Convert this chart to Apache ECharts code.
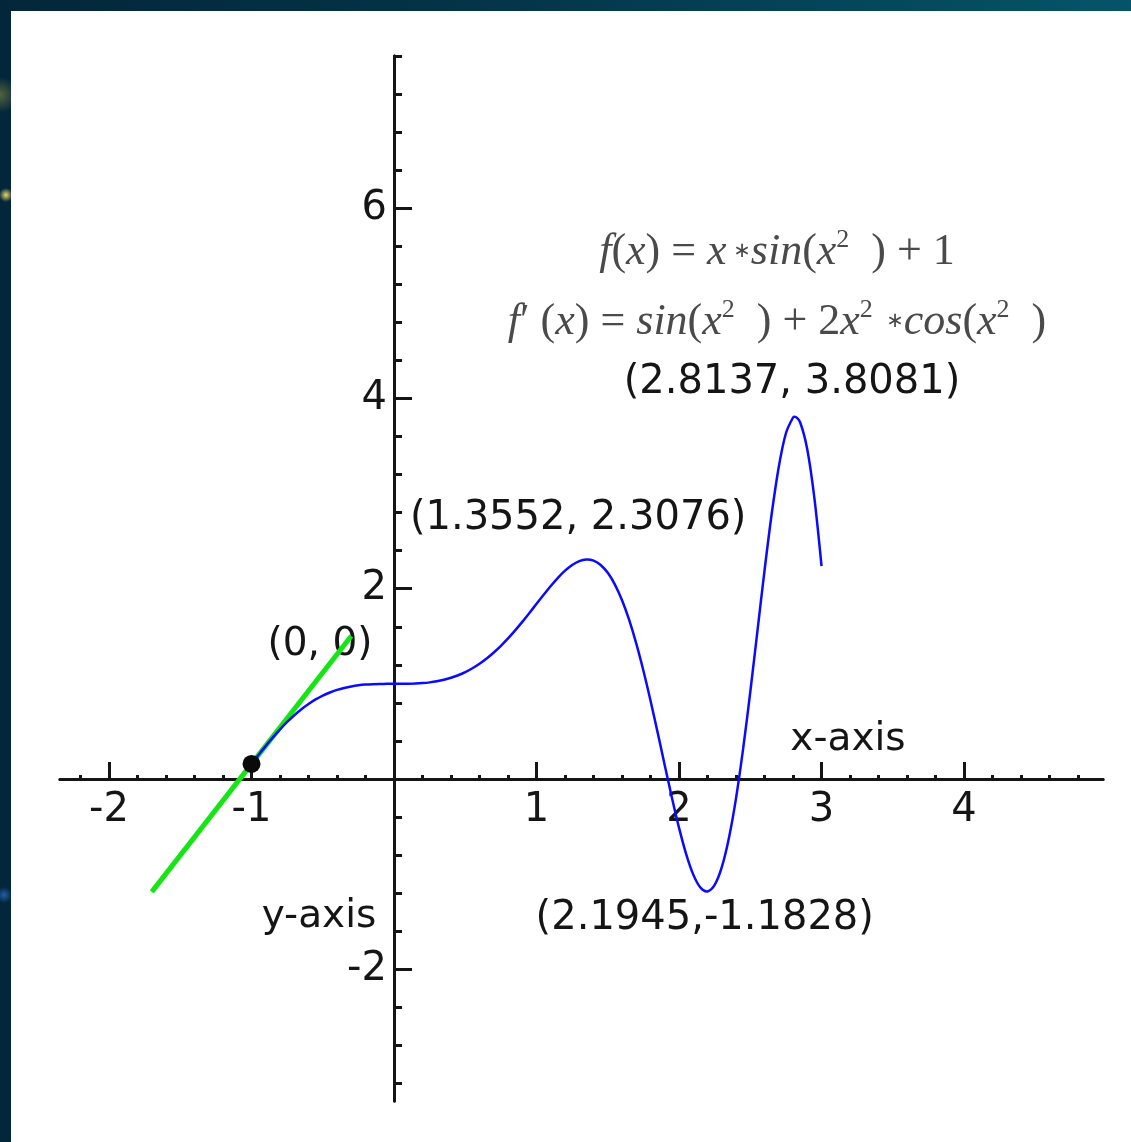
<!DOCTYPE html>
<html>
<head>
<meta charset="utf-8">
<title>f(x) = x*sin(x^2) + 1</title>
<script src="https://cdn.jsdelivr.net/npm/echarts@6/dist/echarts.min.js"></script>
<style>
  html, body { margin: 0; padding: 0; width: 1131px; height: 1142px; overflow: hidden; }
  body {
    position: relative;
    background:
      radial-gradient(circle at 0px 95px, rgba(150,150,70,0.55) 0, rgba(150,150,70,0) 18px),
      radial-gradient(circle at 6px 195px, rgba(245,225,110,0.95) 0, rgba(245,225,110,0) 7px),
      radial-gradient(circle at 4px 895px, rgba(40,110,200,0.8) 0, rgba(40,110,200,0) 8px),
      linear-gradient(90deg, #03263a 0%, #043548 45%, #065468 100%);
  }
  #panel { position: absolute; left: 11px; top: 11px; right: 0; bottom: 0; background: #fff; }
  #chart { position: absolute; left: 0; top: 0; width: 1131px; height: 1142px; }
</style>
</head>
<body>
<div id="panel"></div>
<div id="chart"></div>
<script>
// f(x) = x*sin(x^2) + 1, sampled on [-1, 3]
const curveX = [
  -1.00, -0.95, -0.90, -0.85, -0.80, -0.75, -0.70, -0.65, -0.60, -0.55,
  -0.50, -0.45, -0.40, -0.35, -0.30, -0.25, -0.20, -0.15, -0.10, -0.05,
   0.00,  0.05,  0.10,  0.15,  0.20,  0.25,  0.30,  0.35,  0.40,  0.45,
   0.50,  0.55,  0.60,  0.65,  0.70,  0.75,  0.80,  0.85,  0.90,  0.95,
   1.00,  1.05,  1.10,  1.15,  1.20,  1.25,  1.30,  1.35,  1.40,  1.45,
   1.50,  1.55,  1.60,  1.65,  1.70,  1.75,  1.80,  1.85,  1.90,  1.95,
   2.00,  2.05,  2.10,  2.15,  2.20,  2.25,  2.30,  2.35,  2.40,  2.45,
   2.50,  2.55,  2.60,  2.65,  2.70,  2.75,  2.80,  2.85,  2.90,  2.95,
   3.00
];
const curveY = [
  0.1585, 0.2544, 0.3481, 0.4378, 0.5222, 0.6000, 0.6706, 0.7334, 0.7886, 0.8362,
  0.8763, 0.9095, 0.9363, 0.9572, 0.9730, 0.9844, 0.9920, 0.9966, 0.9990, 0.9999,
  1.0000, 1.0001, 1.0010, 1.0034, 1.0080, 1.0156, 1.0270, 1.0428, 1.0637, 1.0905,
  1.1237, 1.1638, 1.2114, 1.2666, 1.3294, 1.4000, 1.4778, 1.5622, 1.6519, 1.7456,
  1.8415, 1.9369, 2.0292, 2.1147, 2.1898, 2.2500, 2.2908, 2.3075, 2.2953, 2.2499,
  2.1672, 2.0439, 1.8786, 1.6716, 1.4231, 1.1383, 0.8232, 0.4872, 0.1421, -0.1971,
  -0.5136, -0.7892, -1.0053, -1.1414, -1.1822, -1.1134, -0.9269, -0.6203, -0.2010, 0.3213,
  0.9170, 1.5546, 2.1934, 2.7856, 3.2831, 3.6342, 3.7997, 3.7477, 3.4636, 2.9494,
  2.2364
];

// Local extrema of f and their printed coordinates
const extremaX = [1.3552, 2.1945, 2.8137];
const extremaY = [2.3076, -1.1828, 3.8081];
const extremaText = ['(1.3552, 2.3076)', '(2.1945,-1.1828)', '(2.8137, 3.8081)'];

// Tangent line through the point (-1, f(-1))
const tangentPoint = [-1, 0.1585];
const tangentX = [-1.7, -0.3];
const tangentY = [-1.1869, 1.5039];

// Axis ticks and labels
const xMajorTicks = [-2, -1, 1, 2, 3, 4];
const yMajorTicks = [-2, 2, 4, 6];
const xRange = [-2.344, 4.975];
const yRange = [-3.385, 7.6];

function steps(from, to, step) {
  const out = [];
  const n = Math.round((to - from) / step);
  for (let i = 0; i <= n; i++) out.push(+(from + i * step).toFixed(4));
  return out;
}
const xMinorTicks = steps(-2.2, 4.8, 0.2);
const yMinorTicks = steps(-3.2, 7.6, 0.4);

// Merge the extrema into the sampled curve so the peaks are exact
const curveData = curveX.map((x, i) => [x, curveY[i]])
  .concat(extremaX.map((x, i) => [x, extremaY[i]]))
  .sort((a, b) => a[0] - b[0]);

const INK = '#151515';
const LABEL_FONT = 'DejaVu Sans';
const MATH_FONT = 'Liberation Serif';
const MATH_COLOR = '#4a4a4a';
const NUM_SIZE = 40;

// Plot area; x = 0 falls at pixel 394 and y = 0 at pixel 779
const PLOT = { left: 60, right: 28, top: 56, bottom: 41 };
const ZERO_X_PX = 394, ZERO_Y_PX = 779, H = 1142;

const grids = [
  // 0: data + major ticks, 1: minor ticks
  Object.assign({ outerBoundsMode: 'none' }, PLOT),
  Object.assign({ outerBoundsMode: 'none' }, PLOT),
  // 2: x tick labels hang under the x = 0 line
  { outerBoundsMode: 'none', left: PLOT.left, right: PLOT.right, top: PLOT.top, bottom: H - ZERO_Y_PX },
  // 3: y tick labels sit left of the y = 0 line
  { outerBoundsMode: 'none', left: ZERO_X_PX, right: PLOT.right, top: PLOT.top, bottom: PLOT.bottom }
];

const numLabel = (values, margin) => ({
  show: true, customValues: values, margin,
  fontFamily: LABEL_FONT, fontSize: NUM_SIZE, color: INK
});

function tickAxis(range, gridIndex, ticks, len) {
  return {
    type: 'value', gridIndex, min: range[0], max: range[1],
    splitLine: { show: false },
    axisLine: { show: true, onZero: true, lineStyle: { color: INK, width: 3 } },
    axisTick: { show: true, inside: true, length: len, customValues: ticks,
                lineStyle: { color: INK, width: 3 } },
    axisLabel: { show: false }
  };
}
function labelAxis(range, gridIndex, labels, margin) {
  return {
    type: 'value', gridIndex, min: range[0], max: range[1],
    splitLine: { show: false },
    axisLine: { show: false, onZero: false },
    axisTick: { show: false },
    axisLabel: labels ? numLabel(labels, margin) : { show: false }
  };
}

const extremaLabelOffset = [[-9, -41], [-2, 27], [-3, -34]];

const mathRich = {
  i: { fontFamily: MATH_FONT, fontStyle: 'italic', fontSize: 44, color: MATH_COLOR, lineHeight: 50 },
  u: { fontFamily: MATH_FONT, fontSize: 44, color: MATH_COLOR, lineHeight: 50 },
  a: { fontFamily: 'DejaVu Sans', fontSize: 21, color: MATH_COLOR, lineHeight: 42 },
  s: { fontFamily: MATH_FONT, fontSize: 26, color: MATH_COLOR, lineHeight: 28, verticalAlign: 'top' }
};

function textAt(x, y, text) {
  return {
    type: 'text', x, y, z: 1,
    style: { text, fill: INK, font: '39px "' + LABEL_FONT + '"', align: 'center', verticalAlign: 'middle' }
  };
}
function mathAt(x, y, text) {
  return {
    type: 'text', x, y, z: 1,
    style: { text, rich: mathRich, fill: MATH_COLOR, font: '44px "' + MATH_FONT + '"',
             align: 'center', verticalAlign: 'middle' }
  };
}

const option = {
  animation: false,
  backgroundColor: 'transparent',
  grid: grids,
  xAxis: [
    tickAxis(xRange, 0, xMajorTicks, 17),
    tickAxis(xRange, 1, xMinorTicks, 4),
    labelAxis(xRange, 2, xMajorTicks, 12),
    labelAxis(xRange, 3, null, 0)
  ],
  yAxis: [
    tickAxis(yRange, 0, yMajorTicks, 18),
    tickAxis(yRange, 1, yMinorTicks, 8),
    labelAxis(yRange, 2, null, 0),
    labelAxis(yRange, 3, yMajorTicks, 7)
  ],
  graphic: [
    textAt(320, 645, '(0, 0)'),
    textAt(848, 740, 'x-axis'),
    textAt(319, 917, 'y-axis'),
    mathAt(777, 252, '{i|f}{u|(}{i|x}{u|) = }{i|x}{a| ∗}{i|sin}{u|(}{i|x}{s|2}{u|  ) + 1}'),
    mathAt(777, 322, '{i|f}{u|′ (}{i|x}{u|) = }{i|sin}{u|(}{i|x}{s|2}{u|  ) + 2}{i|x}{s|2}{a|  ∗}{i|cos}{u|(}{i|x}{s|2}{u|  )}')
  ],
  series: [
    {
      name: 'tangent', type: 'line', xAxisIndex: 0, yAxisIndex: 0, z: 3,
      data: tangentX.map((x, i) => [x, tangentY[i]]),
      showSymbol: false, symbol: 'none',
      lineStyle: { color: '#14e614', width: 5 }
    },
    {
      name: 'f', type: 'line', xAxisIndex: 0, yAxisIndex: 0, z: 4,
      data: curveData, smooth: 0.3, showSymbol: false, symbol: 'none',
      lineStyle: { color: '#0a0aff', width: 2.5 }
    },
    {
      name: 'point', type: 'scatter', xAxisIndex: 0, yAxisIndex: 0, z: 5,
      data: [tangentPoint], symbolSize: 18,
      itemStyle: { color: '#0a0a0a', opacity: 1 }
    },
    {
      name: 'extrema', type: 'scatter', xAxisIndex: 0, yAxisIndex: 0, z: 6,
      symbolSize: 1, itemStyle: { color: 'rgba(0,0,0,0)', opacity: 1 },
      data: extremaX.map((x, i) => ({
        value: [x, extremaY[i]],
        label: {
          show: true, position: 'inside', offset: extremaLabelOffset[i],
          formatter: extremaText[i], fontFamily: LABEL_FONT, fontSize: NUM_SIZE, color: INK
        }
      }))
    }
  ]
};

const chart = echarts.init(document.getElementById('chart'), null, { renderer: 'canvas' });
chart.setOption(option);
</script>
</body>
</html>
